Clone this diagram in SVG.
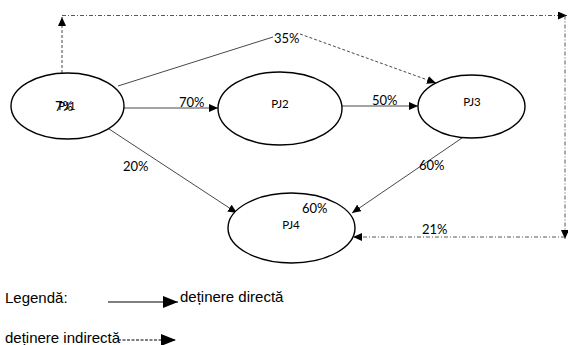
<svg xmlns="http://www.w3.org/2000/svg" width="568" height="345" viewBox="0 0 568 345">
<style>
.node{fill:#fff;stroke:#000;stroke-width:1.4}
.lbl{font-family:Lato,"Open Sans",sans-serif;font-size:13px;fill:#000}
.nl{font-family:Lato,"Open Sans",sans-serif;font-size:11.5px;fill:#000;text-anchor:middle}
.leg{font-family:"Liberation Sans",Arial,sans-serif;font-size:15px;fill:#000}
.ln{stroke:#333;stroke-width:0.9;fill:none}
.dash{stroke:#333;stroke-width:0.9;fill:none;stroke-dasharray:3,2}
.dd{stroke:#444;stroke-width:0.9;fill:none;stroke-dasharray:4,2,1,2}
</style>
<defs>
<marker id="ahs" markerUnits="userSpaceOnUse" markerWidth="10" markerHeight="8" refX="9" refY="4" orient="auto">
<path d="M0,0 L9,4 L0,8 Z" fill="#000"/>
</marker>
<marker id="ahl" markerUnits="userSpaceOnUse" markerWidth="16" markerHeight="12" refX="15" refY="6" orient="auto">
<path d="M0,0 L15,6 L0,12 Z" fill="#000"/>
</marker>
</defs>
<g id="connectors">
<line class="dash" x1="62" y1="73" x2="62" y2="17" marker-end="url(#ahs)"/>
<line class="dd" x1="62" y1="15.5" x2="567" y2="15.5" marker-end="url(#ahs)"/>
<line class="dd" x1="565" y1="15.5" x2="565" y2="239" marker-end="url(#ahs)"/>
<line class="dd" x1="565" y1="237" x2="353" y2="237" marker-end="url(#ahs)"/>
<line class="ln" x1="118" y1="86" x2="273" y2="37"/>
<line class="dash" x1="300" y1="34" x2="436" y2="83" marker-end="url(#ahs)"/>
<line class="ln" x1="124" y1="108" x2="218" y2="108" marker-end="url(#ahs)"/>
<line class="ln" x1="342" y1="106" x2="418" y2="106" marker-end="url(#ahs)"/>
<line class="ln" x1="109" y1="129" x2="237" y2="213" marker-end="url(#ahs)"/>
<line class="ln" x1="462" y1="138" x2="352" y2="213" marker-end="url(#ahs)"/>
<text class="lbl" x="274" y="43">35%</text>
<text class="lbl" x="179" y="107">70%</text>
<text class="lbl" x="372" y="105">50%</text>
<text class="lbl" x="123" y="171">20%</text>
<text class="lbl" x="419" y="170">60%</text>
<text class="lbl" x="422" y="234">21%</text>
</g>
<g id="PJ1">
<ellipse class="node" cx="67.5" cy="106" rx="56.5" ry="33"/>
<text class="lbl" x="55" y="111">7%</text>
<text class="nl" x="67" y="110">PJ1</text>
</g>
<g id="PJ2">
<ellipse class="node" cx="280" cy="108.5" rx="62" ry="36.5"/>
<text class="nl" x="280" y="108">PJ2</text>
</g>
<g id="PJ3">
<ellipse class="node" cx="471.5" cy="106.5" rx="53.5" ry="31.5"/>
<text class="nl" x="472" y="106">PJ3</text>
</g>
<g id="PJ4">
<ellipse class="node" cx="291.5" cy="228" rx="63.5" ry="35"/>
<text class="lbl" x="302" y="213">60%</text>
<text class="nl" x="291" y="229">PJ4</text>
</g>
<g id="legend">
<text class="leg" x="5" y="303">Legendă:</text>
<line x1="108" y1="302" x2="178" y2="302" stroke="#000" stroke-width="1.2" marker-end="url(#ahl)"/>
<text class="leg" x="180" y="302">deținere directă</text>
<text class="leg" x="5" y="343">deținere indirectă</text>
<line x1="118" y1="340" x2="176" y2="340" stroke="#000" stroke-width="1" stroke-dasharray="3,1.5" marker-end="url(#ahl)"/>
</g>
</svg>
